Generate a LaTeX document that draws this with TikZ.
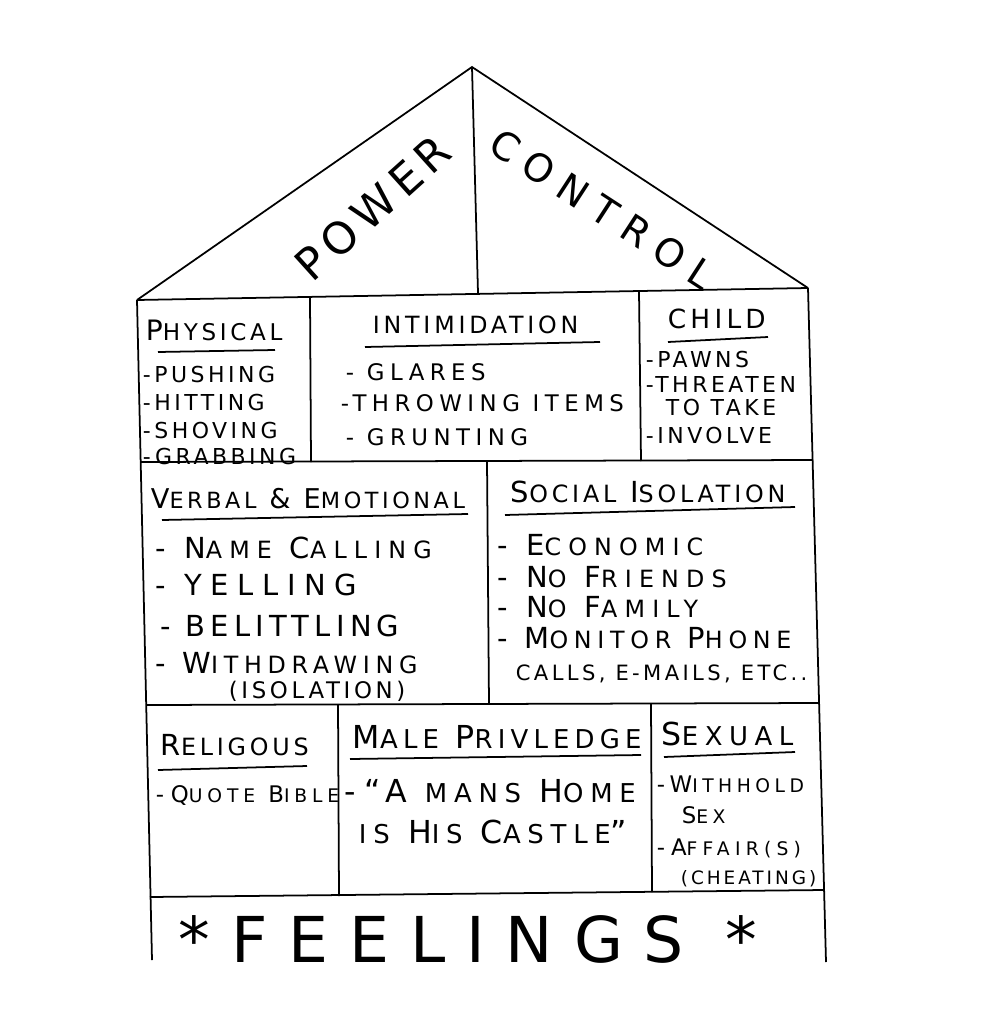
\documentclass[tikz,border=0pt]{standalone}
\usepackage{fontspec}
\usepackage{graphicx}
\setmainfont{DejaVu Sans}[LetterSpace=16]
\newcommand\low[1]{\scalebox{0.82}{#1}}
\begin{document}
\begin{tikzpicture}[x=0.02cm,y=-0.02cm,line width=1pt,
        hd/.style={anchor=base west,inner sep=0pt,font=\fontsize{16}{18}\selectfont},
        sm/.style={anchor=base west,inner sep=0pt,font=\fontsize{12.5}{14}\selectfont},
        smw/.style={anchor=base west,inner sep=0pt,font=\fontsize{13}{15}\selectfont\addfontfeature{LetterSpace=24}},
        md/.style={anchor=base west,inner sep=0pt,font=\fontsize{16.5}{18}\selectfont\addfontfeature{LetterSpace=30}}]
        \useasboundingbox (0,0) rectangle (986,1024);
        % roof
        \draw[] (137,300) -- (472,67) -- (808,288);
        \draw[] (472,67) -- (478,293);
        \draw[] (137,300) -- (808,288);
        \node[font=\fontsize{25}{28}\selectfont,rotate=42] (power) at (373,208) {POWER};
        \node[font=\fontsize{22}{26}\selectfont\addfontfeature{LetterSpace=30},rotate=-33] (control) at (602,209) {CONTROL};
        % walls and rooms
        \draw[] (137,300) -- (152,960);
        \draw[] (808,288) -- (826,962);
        \draw[] (141,462) -- (813,460);
        \draw[] (146,705) -- (819,703);
        \draw[] (150,897) -- (824,890);
        \draw[] (310,298) -- (311,462);
        \draw[] (639,291) -- (641,461);
        \draw[] (487,461) -- (489,704);
        \draw[] (338,705) -- (339,896);
        \draw[] (651,704) -- (652,892);
        % first floor
        \node[hd] (phys) at (145,340) {P\low{HYSICAL}};
        \draw[] (158,352) -- (275,350);
        \node[sm] (phys1) at (142,382) {-PUSHING};
        \node[sm] (phys2) at (142,410) {-HITTING};
        \node[sm] (phys3) at (142,438) {-SHOVING};
        \node[sm] (phys4) at (142,464) {-GRABBING};
        \node[hd,font=\fontsize{13.5}{16}\selectfont] (intim) at (372,333) {INTIMIDATION};
        \draw[] (365,347) -- (600,342);
        \node[smw] (intim1) at (345,380) {- GLARES};
        \node[smw] (intim2) at (340,411) {-THROWING ITEMS};
        \node[smw] (intim3) at (345,445) {- GRUNTING};
        \node[hd,font=\fontsize{15}{17}\selectfont] (child) at (667,328) {CHILD};
        \draw[] (668,342) -- (768,337);
        \node[sm] (child1) at (645,367) {-PAWNS};
        \node[sm] (child2) at (645,392) {-THREATEN};
        \node[sm] (child3) at (665,415) {TO TAKE};
        \node[sm] (child4) at (645,443) {-INVOLVE};
        % second floor
        \node[hd,font=\fontsize{15.5}{18}\selectfont] (verbal) at (150,508) {V\low{ERBAL} \& E\low{MOTIONAL}};
        \draw[] (162,520) -- (468,514);
        \node[md] (verbal1) at (155,558) {- N\low{AME} C\low{ALLING}};
        \node[md] (verbal2) at (155,595) {- YELLING};
        \node[md,font=\fontsize{16.5}{18}\selectfont\addfontfeature{LetterSpace=18}] (verbal3) at (160,636) {- BELITTLING};
        \node[md,font=\fontsize{16.5}{18}\selectfont\addfontfeature{LetterSpace=24}] (verbal4) at (155,673) {- W\low{ITHDRAWING}};
        \node[sm,font=\fontsize{13}{15}\selectfont] (verbal5) at (228,698) {(ISOLATION)};
        \node[hd,font=\fontsize{16.5}{19}\selectfont] (social) at (510,502) {S\low{OCIAL} I\low{SOLATION}};
        \draw[] (505,515) -- (795,507);
        \node[md] (social1) at (497,555) {- E\low{CONOMIC}};
        \node[md] (social2) at (497,587) {- N\low{O} F\low{RIENDS}};
        \node[md] (social3) at (497,617) {- N\low{O} F\low{AMILY}};
        \node[md,font=\fontsize{16.5}{18}\selectfont\addfontfeature{LetterSpace=24}] (social4) at (497,648) {- M\low{ONITOR} P\low{HONE}};
        \node[sm,font=\fontsize{12}{14}\selectfont] (social5) at (515,680) {CALLS, E-MAILS, ETC..};
        % third floor
        \node[hd,font=\fontsize{16.5}{19}\selectfont] (relig) at (160,755) {R\low{ELIGOUS}};
        \draw[] (158,770) -- (307,766);
        \node[smw,font=\fontsize{13}{15}\selectfont\addfontfeature{LetterSpace=26}] (relig1) at (155,802) {-Q\low{UOTE} B\low{IBLE}};
        \node[hd,font=\fontsize{18}{20}\selectfont\addfontfeature{LetterSpace=20}] (male) at (352,748) {M\low{ALE} P\low{RIVLEDGE}};
        \draw[] (350,759) -- (641,755);
        \node[md,font=\fontsize{18}{20}\selectfont\addfontfeature{LetterSpace=26}] (male1) at (344,802) {-“A \low{MANS} H\low{OME}};
        \node[md,font=\fontsize{18}{20}\selectfont\addfontfeature{LetterSpace=26}] (male2) at (358,843) {\low{IS} H\low{IS} C\low{ASTLE}”};
        \node[hd,font=\fontsize{18}{20}\selectfont\addfontfeature{LetterSpace=25}] (sex) at (661,745) {S\low{EXUAL}};
        \draw[] (664,757) -- (795,752);
        \node[smw] (sex1) at (656,792) {-W\low{ITHHOLD}};
        \node[smw] (sex2) at (681,823) {S\low{EX}};
        \node[smw,font=\fontsize{13}{15}\selectfont\addfontfeature{LetterSpace=28}] (sex3) at (656,855) {-A\low{FFAIR(S)}};
        \node[sm,font=\fontsize{10.5}{13}\selectfont] (sex4) at (680,884) {(CHEATING)};
        % ground floor
        \node[anchor=base west,inner sep=0pt,font=\fontsize{36}{40}\selectfont\addfontfeature{LetterSpace=33}] (feel) at (178,962) {*FEELINGS *};
    \end{tikzpicture}
\end{document}
